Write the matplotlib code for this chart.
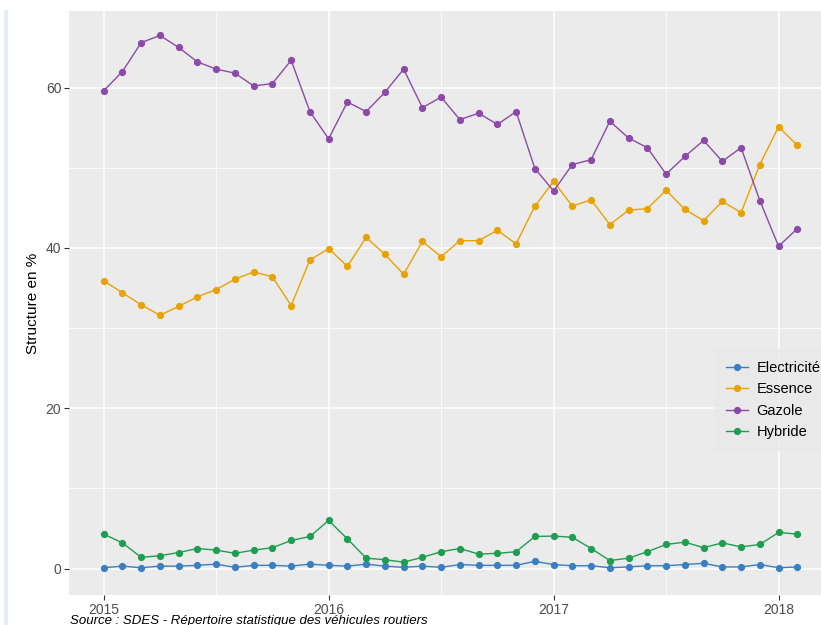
import numpy as np
import matplotlib
matplotlib.use("Agg")
import matplotlib.pyplot as plt
from matplotlib.patches import Rectangle

plt.rcParams['font.family'] = ['Liberation Sans', 'DejaVu Sans']

# monthly shares (%) from January 2015 to February 2018
months = np.arange(38)
electricite = [0.1, 0.3, 0.1, 0.3, 0.3, 0.4, 0.55, 0.15, 0.4, 0.4, 0.3, 0.55,
               0.4, 0.3, 0.55, 0.3, 0.15, 0.3, 0.15, 0.5, 0.4, 0.4, 0.4, 0.9,
               0.5, 0.35, 0.35, 0.1, 0.2, 0.35, 0.35, 0.5, 0.65, 0.2, 0.2, 0.5,
               0.1, 0.2]
essence = [35.9, 34.4, 32.9, 31.6, 32.7, 33.9, 34.8, 36.1, 37.0, 36.4, 32.8, 38.5,
           39.9, 37.7, 41.3, 39.2, 36.7, 40.8, 38.9, 40.9, 40.9, 42.2, 40.5, 45.2,
           48.3, 45.2, 46.0, 42.9, 44.7, 44.9, 47.2, 44.8, 43.4, 45.8, 44.4, 50.4,
           55.1, 52.8]
gazole = [59.6, 62.0, 65.6, 66.5, 65.0, 63.2, 62.3, 61.8, 60.2, 60.5, 63.4, 57.0,
          53.6, 58.2, 57.0, 59.4, 62.3, 57.5, 58.8, 56.0, 56.8, 55.4, 57.0, 49.9,
          47.1, 50.4, 51.0, 55.8, 53.7, 52.5, 49.2, 51.4, 53.4, 50.8, 52.5, 45.9,
          40.2, 42.4]
hybride = [4.3, 3.2, 1.4, 1.6, 2.0, 2.5, 2.3, 1.9, 2.3, 2.6, 3.5, 4.0,
           6.0, 3.7, 1.3, 1.1, 0.8, 1.4, 2.1, 2.5, 1.8, 1.9, 2.1, 4.0,
           4.05, 3.9, 2.5, 1.0, 1.3, 2.1, 3.0, 3.3, 2.6, 3.2, 2.7, 3.0,
           4.5, 4.3]

series = [("Electricité", electricite, "#3a7fc1"),
          ("Essence", essence, "#e8a202"),
          ("Gazole", gazole, "#8c4aa8"),
          ("Hybride", hybride, "#1e9e50")]

year_ticks = [0, 12, 24, 36]
year_labels = ["2015", "2016", "2017", "2018"]

W, H = 821, 625
fig = plt.figure(figsize=(W / 100, H / 100), dpi=100)
fig.patch.set_facecolor("white")

# thin pale strip along the left border
fig.patches.append(Rectangle((4 / W, 0), 4 / W, 1 - 10 / H, transform=fig.transFigure,
                             facecolor="#e4ecf6", edgecolor="none"))

ax = fig.add_axes([69 / W, 30 / H, (832 - 69) / W, (595 - 11) / H])
ax.set_facecolor("#ebebeb")
for s in ax.spines.values():
    s.set_visible(False)

for name, vals, col in series:
    ax.plot(months, vals, color=col, lw=1.0, marker="o", ms=4.2, mec=col, label=name)

span = months[-1] - months[0]
ax.set_xlim(-0.05 * span, months[-1] + 0.05 * span)
ax.set_ylim(-3.3, 69.55)

ax.set_xticks(year_ticks)
ax.set_xticklabels(year_labels)
ax.set_xticks([6, 18, 30], minor=True)
ax.set_yticks([0, 20, 40, 60])
ax.set_yticks([10, 30, 50], minor=True)
ax.grid(which="major", color="white", lw=1.1)
ax.grid(which="minor", color="white", lw=0.55)
ax.set_axisbelow(True)
ax.tick_params(which="major", length=3.5, width=0.8, color="#333333",
               labelcolor="#4d4d4d", labelsize=10, pad=2)
ax.tick_params(which="minor", length=0)

ax.set_ylabel("Structure en %", fontsize=11, color="black", labelpad=4)

leg = ax.legend(loc="center left", bbox_to_anchor=(714 / W, 1 - 400 / H),
                bbox_transform=fig.transFigure, frameon=True, fontsize=10.5,
                handlelength=1.5, handletextpad=0.55, borderpad=0.85,
                labelspacing=0.5, borderaxespad=0)
leg.get_frame().set_facecolor("#e9e9e9")
leg.get_frame().set_edgecolor("none")
leg.get_frame().set_boxstyle("square", pad=0)

fig.text(70 / W, 1 - 615 / H, "Source : SDES - Répertoire statistique des véhicules routiers",
         fontsize=9.5, style="italic", color="black", va="top", ha="left")

fig.savefig("out.png", dpi=100)
